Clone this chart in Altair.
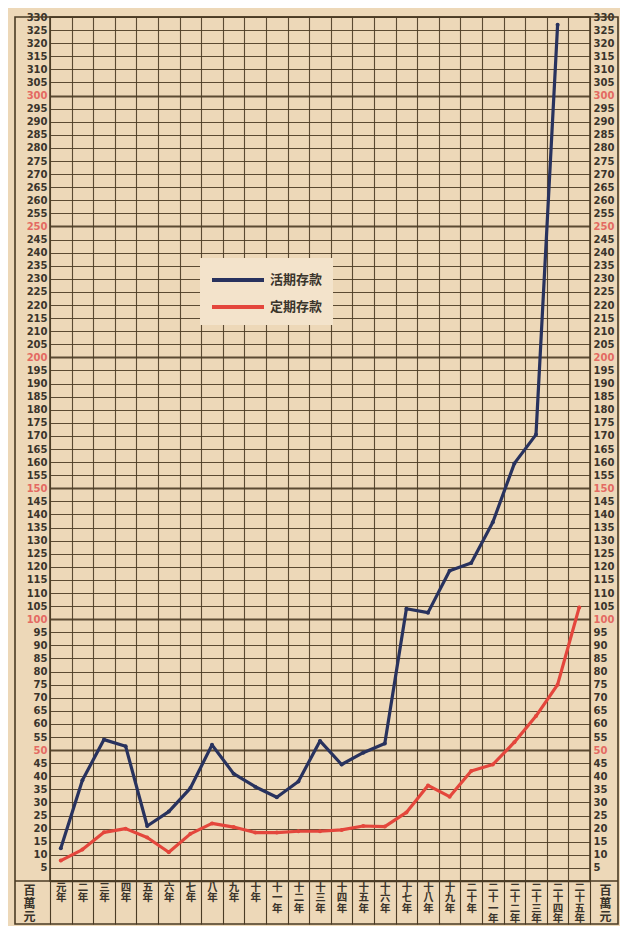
import altair as alt
import pandas as pd

years = ["元年", "二年", "三年", "四年", "五年", "六年", "七年", "八年", "九年", "十年",
         "十一年", "十二年", "十三年", "十四年", "十五年", "十六年", "十七年", "十八年", "十九年", "二十年",
         "二十一年", "二十二年", "二十三年", "二十四年", "二十五年"]
current_deposits = [12.5, 38.5, 54, 51.5, 21, 26.5, 35.5, 52, 41, 36,
                    32, 38, 53.5, 44.5, 49, 52.5, 104, 102.5, 118.5, 121.5,
                    137, 159.5, 170.5, 327]
fixed_deposits = [7.8, 12, 18.6, 20, 16.6, 11, 18, 22, 20.6, 18.5,
                  18.5, 19, 19, 19.5, 21, 20.8, 26.2, 36.5, 32.2, 42,
                  44.5, 53, 63, 75, 104.5]
series_names = ["活期存款", "定期存款"]
y_ticks = list(range(5, 335, 5))
unit_title = ["百", "萬", "元"]

rows = []
for i, yr in enumerate(years):
    if i < len(current_deposits):
        rows.append({"year": yr, "idx": i, "value": current_deposits[i], "series": series_names[0]})
    rows.append({"year": yr, "idx": i, "value": fixed_deposits[i], "series": series_names[1]})
df = pd.DataFrame(rows)
frame_df = pd.DataFrame({"k": [0]})

W, H = 540, 864
ROW = 43
GRID = "#4a3b24"
PAPER = "#edd8b8"
INK = "#3a342b"
RED_LABEL = "#e46a62"
BLUE = "#28325e"
RED = "#e4463c"
CJK = "Noto Sans CJK TC"

x_enc = alt.X(
    "year:O", sort=years, title=None,
    scale=alt.Scale(type="band", paddingInner=0, paddingOuter=0),
    axis=alt.Axis(
        tickBand="extent", grid=True, gridColor=GRID, gridWidth=1.1, gridOpacity=0.9,
        ticks=True, tickSize=ROW, tickColor=GRID, tickWidth=1.1,
        domain=True, domainColor=GRID, domainWidth=1.6,
        labelAngle=0,
        labelExpr="split(pad(datum.label, 4, '\u3000', 'right'), '')",
        labelBaseline="top", labelPadding=-42,
        labelFont=CJK, labelFontSize=10.5, labelFontWeight="bold",
        labelLineHeight=10.5, labelColor=INK, labelOverlap=False, labelFlush=False,
        labelBound=False,
    ),
)

y_scale = alt.Scale(domain=[0, 330], nice=False, zero=True)
label_color = {"condition": {"test": "datum.value % 50 === 0", "value": RED_LABEL}, "value": INK}


def y_axis(orient, grid, title_x):
    kw = dict(
        orient=orient, values=y_ticks, ticks=False, domain=False, labelPadding=3,
        labelFont="DejaVu Sans", labelFontSize=10, labelFontWeight="bold",
        labelColor=label_color, labelOverlap=False,
        title=unit_title, titleAngle=0, titleX=title_x, titleY=H + 4,
        titleAlign="center", titleBaseline="top", titleFont=CJK, titleFontSize=12,
        titleFontWeight="bold", titleLineHeight=13, titleColor=INK,
        grid=grid,
    )
    if grid:
        kw.update(gridColor=GRID, gridOpacity=0.9,
                  gridWidth={"condition": {"test": "datum.value % 50 === 0", "value": 2.2},
                             "value": 1.0})
    return alt.Axis(**kw)


legend = alt.Legend(
    title=None, orient="none", legendX=150, legendY=241, fillColor="#f3e3cb",
    padding=10, symbolType="M-1,0H4.2", symbolSize=400, symbolStrokeWidth=4,
    labelFont=CJK, labelFontSize=13, labelFontWeight="bold", labelColor=INK,
    rowPadding=7, labelOffset=36,
)

lines = alt.Chart(df).mark_line(
    strokeWidth=3.2, strokeJoin="round", strokeCap="round",
    point=alt.OverlayMarkDef(filled=True, size=16),
).encode(
    x=x_enc,
    y=alt.Y("value:Q", scale=y_scale, axis=y_axis("left", True, -21)),
    color=alt.Color("series:N", scale=alt.Scale(domain=series_names, range=[BLUE, RED]),
                    legend=legend),
    order=alt.Order("idx:Q"),
)

right_axis_layer = alt.Chart(df).mark_point(opacity=0).encode(
    x=x_enc,
    y=alt.Y("value:Q", scale=y_scale, axis=y_axis("right", False, 15)),
)

frame = alt.Chart(frame_df).mark_rect(fillOpacity=0, stroke=GRID, strokeWidth=1.6).encode(
    x=alt.value(-35), x2=alt.value(568), y=alt.value(0), y2=alt.value(H + ROW)
)
bottom_rule = alt.Chart(frame_df).mark_rule(stroke=GRID, strokeWidth=1.6).encode(
    x=alt.value(-35), x2=alt.value(568), y=alt.value(H)
)

chart = alt.layer(frame, bottom_rule, right_axis_layer, lines).resolve_axis(
    y="independent"
).properties(
    width=W, height=H,
    padding={"left": 42, "top": 9, "right": 30, "bottom": 45},
    autosize=alt.AutoSizeParams(type="none"),
    background=PAPER,
).configure_view(stroke=GRID, strokeWidth=1.6)

chart.save("out.html", embed_options={"renderer": "svg", "actions": False})
